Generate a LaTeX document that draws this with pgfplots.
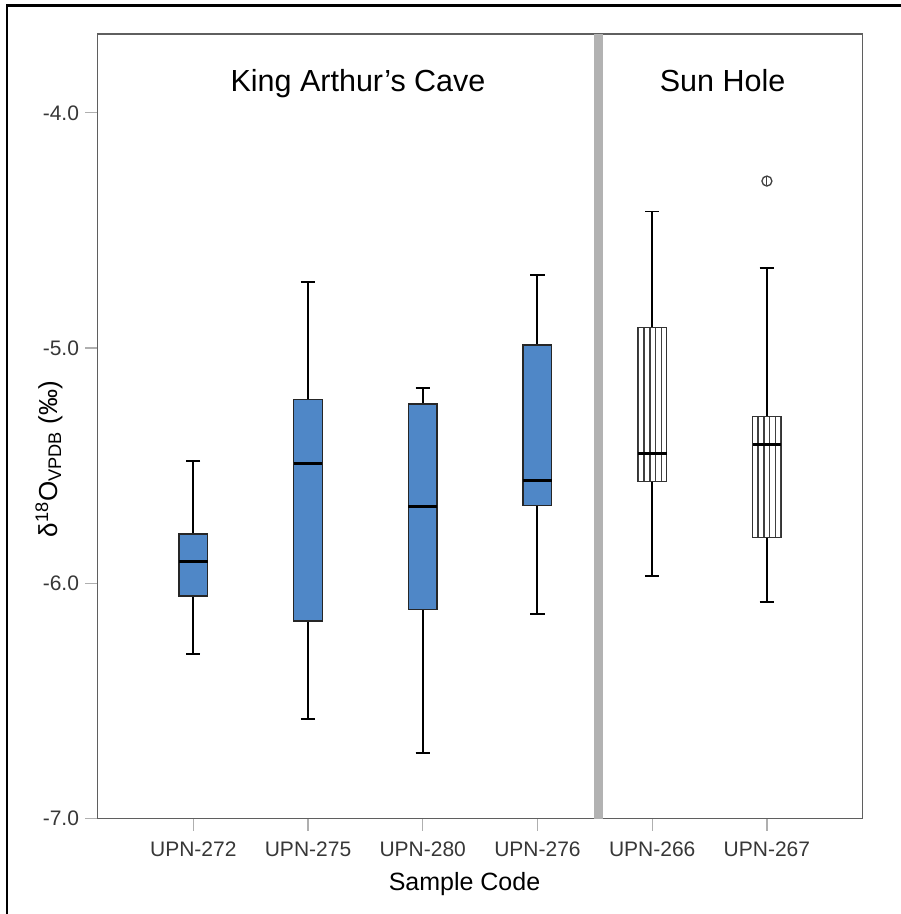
\documentclass[border=0pt]{standalone}
\usepackage{fontspec}
\setmainfont{Liberation Sans}
\usepackage{pgfplots}
\pgfplotsset{compat=1.18}
\usepgfplotslibrary{statistics}
\usetikzlibrary{patterns.meta}
\definecolor{boxblue}{RGB}{79,135,199}
\definecolor{axgray}{RGB}{95,95,95}
\definecolor{tickgray}{RGB}{175,175,175}
\definecolor{divgray}{RGB}{178,178,178}
\definecolor{labgray}{RGB}{55,55,55}

\begin{document}
\begin{tikzpicture}
\path[use as bounding box] (0,0) rectangle (901bp,914bp);
\begin{axis}[
  at={(97.5bp,95.3bp)}, anchor=south west,
  scale only axis, width=765.2bp, height=784.7bp,
  xmin=-0.835, xmax=5.835, ymin=-7, ymax=-3.665,
  xtick={0,...,5}, xticklabels={UPN-272,UPN-275,UPN-280,UPN-276,UPN-266,UPN-267},
  ytick={-7,-6,-5,-4}, yticklabels={-7.0,-6.0,-5.0,-4.0},
  tick pos=left, tick align=outside, major tick length=12bp,
  tick style={draw=tickgray, line width=1.3bp},
  axis line style={draw=axgray, line width=1.3bp},
  ticklabel style={font=\fontsize{21bp}{25bp}\selectfont, text=labgray},
  xticklabel style={yshift=-8bp},
  yticklabel style={xshift=-3bp},
  boxplot/draw direction=y,
  boxplot/box extend=0.25,
  boxplot/whisker extend=0.125,
  boxplot/every median/.style={line width=3bp, draw=black},
  clip=false,
]
\draw[divgray, line width=9bp] (axis cs:3.531,-7) -- (axis cs:3.531,-3.665);

% King Arthur's Cave
\addplot[boxplot prepared={lower whisker=-6.300, lower quartile=-6.054, median=-5.909, upper quartile=-5.790, upper whisker=-5.480, draw position=0},
  draw=black!85, fill=boxblue, line width=1.3bp,
  boxplot/every whisker/.style={line width=2bp, draw=black}] coordinates {};
\addplot[boxplot prepared={lower whisker=-6.578, lower quartile=-6.160, median=-5.490, upper quartile=-5.218, upper whisker=-4.718, draw position=1},
  draw=black!85, fill=boxblue, line width=1.3bp,
  boxplot/every whisker/.style={line width=2bp, draw=black}] coordinates {};
\addplot[boxplot prepared={lower whisker=-6.720, lower quartile=-6.111, median=-5.674, upper quartile=-5.238, upper whisker=-5.171, draw position=2},
  draw=black!85, fill=boxblue, line width=1.3bp,
  boxplot/every whisker/.style={line width=2bp, draw=black}] coordinates {};
\addplot[boxplot prepared={lower whisker=-6.128, lower quartile=-5.670, median=-5.564, upper quartile=-4.987, upper whisker=-4.690, draw position=3},
  draw=black!85, fill=boxblue, line width=1.3bp,
  boxplot/every whisker/.style={line width=2bp, draw=black}] coordinates {};

% Sun Hole
\addplot[boxplot prepared={lower whisker=-5.969, lower quartile=-5.567, median=-5.449, upper quartile=-4.912, upper whisker=-4.419, draw position=4},
  draw=black!80, line width=1.2bp,
  pattern={Lines[angle=90,distance=5.7bp,line width=1.4bp]}, pattern color=black!75,
  boxplot/every whisker/.style={line width=1.6bp, draw=black}] coordinates {};
\addplot[boxplot prepared={lower whisker=-6.080, lower quartile=-5.806, median=-5.409, upper quartile=-5.289, upper whisker=-4.660, draw position=5},
  draw=black!80, line width=1.2bp,
  pattern={Lines[angle=90,distance=5.7bp,line width=1.4bp]}, pattern color=black!75,
  boxplot/every whisker/.style={line width=1.6bp, draw=black}] coordinates {};
\addplot[only marks, mark=o, mark size=5bp, mark options={line width=1.3bp, draw=black!75}] coordinates {(5,-4.29)};
\addplot[only marks, mark=|, mark size=4bp, mark options={line width=1.1bp, draw=black!75}] coordinates {(5,-4.29)};

\node[anchor=base, font=\fontsize{30.5bp}{36bp}\selectfont] at (axis cs:1.436,-3.911) {King Arthur’s Cave};
\node[anchor=base, font=\fontsize{30.5bp}{36bp}\selectfont] at (axis cs:4.614,-3.911) {Sun Hole};
\end{axis}
\node[rotate=90, font=\fontsize{26bp}{30bp}\selectfont] at (49bp,455bp) {δ\textsuperscript{18}O\textsubscript{VPDB} (‰)};
\node[anchor=base, font=\fontsize{25bp}{30bp}\selectfont] at (464.5bp,23.3bp) {Sample Code};
\draw[line width=2.6bp] (7bp,0) -- (7bp,908.5bp) -- (901bp,908.5bp);
\end{tikzpicture}
\end{document}
